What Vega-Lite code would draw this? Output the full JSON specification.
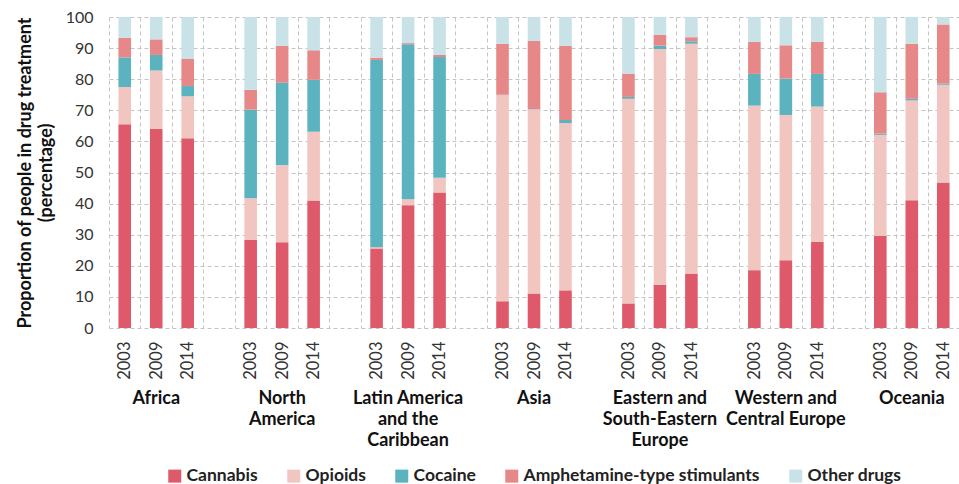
{
  "$schema": "https://vega.github.io/schema/vega-lite/v6.json",
  "width": 850,
  "height": 311,
  "autosize": "none",
  "padding": {"left": 109, "top": 17, "right": 0, "bottom": 156},
  "background": "white",
  "config": {
    "font": "Lato",
    "view": {"stroke": null},
    "axis": {"labelFont": "Lato", "titleFont": "Lato"}
  },
  "data": {
    "values": [
      {"region": "Africa", "year": "2003", "Cannabis": 65.5, "Opioids": 12, "Cocaine": 9.5, "Amphetamine-type stimulants": 6.3, "Other drugs": 6.7},
      {"region": "Africa", "year": "2009", "Cannabis": 64, "Opioids": 18.8, "Cocaine": 5, "Amphetamine-type stimulants": 5, "Other drugs": 7.2},
      {"region": "Africa", "year": "2014", "Cannabis": 61, "Opioids": 13.5, "Cocaine": 3.3, "Amphetamine-type stimulants": 8.7, "Other drugs": 13.5},
      {"region": "North America", "year": "2003", "Cannabis": 28.3, "Opioids": 13.4, "Cocaine": 28.5, "Amphetamine-type stimulants": 6.4, "Other drugs": 23.4},
      {"region": "North America", "year": "2009", "Cannabis": 27.6, "Opioids": 24.8, "Cocaine": 26.5, "Amphetamine-type stimulants": 11.8, "Other drugs": 9.3},
      {"region": "North America", "year": "2014", "Cannabis": 41, "Opioids": 22.1, "Cocaine": 16.7, "Amphetamine-type stimulants": 9.5, "Other drugs": 10.7},
      {"region": "Latin America and the Caribbean", "year": "2003", "Cannabis": 25.6, "Opioids": 0.4, "Cocaine": 60.2, "Amphetamine-type stimulants": 0.7, "Other drugs": 13.1},
      {"region": "Latin America and the Caribbean", "year": "2009", "Cannabis": 39.5, "Opioids": 1.9, "Cocaine": 49.8, "Amphetamine-type stimulants": 0.4, "Other drugs": 8.4},
      {"region": "Latin America and the Caribbean", "year": "2014", "Cannabis": 43.6, "Opioids": 4.7, "Cocaine": 38.8, "Amphetamine-type stimulants": 0.7, "Other drugs": 12.2},
      {"region": "Asia", "year": "2003", "Cannabis": 8.6, "Opioids": 66.3, "Cocaine": 0.1, "Amphetamine-type stimulants": 16.4, "Other drugs": 8.6},
      {"region": "Asia", "year": "2009", "Cannabis": 11.1, "Opioids": 59.2, "Cocaine": 0.1, "Amphetamine-type stimulants": 21.9, "Other drugs": 7.7},
      {"region": "Asia", "year": "2014", "Cannabis": 12.1, "Opioids": 53.8, "Cocaine": 1.0, "Amphetamine-type stimulants": 23.8, "Other drugs": 9.3},
      {"region": "Eastern and South-Eastern Europe", "year": "2003", "Cannabis": 7.9, "Opioids": 65.8, "Cocaine": 0.6, "Amphetamine-type stimulants": 7.5, "Other drugs": 18.2},
      {"region": "Eastern and South-Eastern Europe", "year": "2009", "Cannabis": 13.9, "Opioids": 75.8, "Cocaine": 1.1, "Amphetamine-type stimulants": 3.5, "Other drugs": 5.7},
      {"region": "Eastern and South-Eastern Europe", "year": "2014", "Cannabis": 17.5, "Opioids": 73.9, "Cocaine": 0.8, "Amphetamine-type stimulants": 1.3, "Other drugs": 6.5},
      {"region": "Western and Central Europe", "year": "2003", "Cannabis": 18.6, "Opioids": 52.9, "Cocaine": 10.2, "Amphetamine-type stimulants": 10.3, "Other drugs": 8.0},
      {"region": "Western and Central Europe", "year": "2009", "Cannabis": 21.8, "Opioids": 46.7, "Cocaine": 11.7, "Amphetamine-type stimulants": 10.7, "Other drugs": 9.1},
      {"region": "Western and Central Europe", "year": "2014", "Cannabis": 27.7, "Opioids": 43.5, "Cocaine": 10.5, "Amphetamine-type stimulants": 10.3, "Other drugs": 8.0},
      {"region": "Oceania", "year": "2003", "Cannabis": 29.6, "Opioids": 32.5, "Cocaine": 0.4, "Amphetamine-type stimulants": 13.3, "Other drugs": 24.2},
      {"region": "Oceania", "year": "2009", "Cannabis": 41.1, "Opioids": 32.1, "Cocaine": 0.5, "Amphetamine-type stimulants": 17.7, "Other drugs": 8.6},
      {"region": "Oceania", "year": "2014", "Cannabis": 46.8, "Opioids": 31.4, "Cocaine": 0.4, "Amphetamine-type stimulants": 19.0, "Other drugs": 2.4}
    ]
  },
  "transform": [
    {"fold": ["Cannabis", "Opioids", "Cocaine", "Amphetamine-type stimulants", "Other drugs"], "as": ["drug", "value"]},
    {"calculate": "datum.region + '|' + datum.year", "as": "slot"},
    {"calculate": "indexof(['Cannabis','Opioids','Cocaine','Amphetamine-type stimulants','Other drugs'], datum.drug)", "as": "k"}
  ],
  "resolve": {"axis": {"x": "independent"}, "scale": {"x": "shared"}},
  "layer": [
    {
      "mark": {"type": "bar", "width": {"band": 0.4}},
      "encoding": {
        "x": {
          "field": "slot",
          "type": "nominal",
          "scale": {
            "paddingInner": 0,
            "paddingOuter": 0,
            "domain": [
              "Africa|2003", "Africa|2009", "Africa|2014", "gap1",
              "North America|2003", "North America|2009", "North America|2014", "gap2",
              "Latin America and the Caribbean|2003", "Latin America and the Caribbean|2009", "Latin America and the Caribbean|2014", "gap3",
              "Asia|2003", "Asia|2009", "Asia|2014", "gap4",
              "Eastern and South-Eastern Europe|2003", "Eastern and South-Eastern Europe|2009", "Eastern and South-Eastern Europe|2014", "gap5",
              "Western and Central Europe|2003", "Western and Central Europe|2009", "Western and Central Europe|2014", "gap6",
              "Oceania|2003", "Oceania|2009", "Oceania|2014"
            ]
          },
          "axis": {
            "orient": "bottom",
            "title": null,
            "domain": false,
            "ticks": false,
            "grid": true,
            "tickBand": "extent",
            "gridColor": "#c4c4c4",
            "gridDash": [4, 3],
            "gridWidth": 1,
            "labelAngle": -90,
            "labelFontSize": 16.5,
            "labelColor": "#333333",
            "labelPadding": 13,
            "labelOverlap": false,
            "labelExpr": "indexof('' + datum.value, '|') > 0 ? split('' + datum.value, '|')[1] : ''"
          }
        },
        "y": {
          "field": "value",
          "type": "quantitative",
          "stack": "zero",
          "scale": {"domain": [0, 100], "nice": false},
          "axis": {
            "values": [0, 10, 20, 30, 40, 50, 60, 70, 80, 90, 100],
            "title": ["Proportion of people in drug treatment", "(percentage)"],
            "titleFontSize": 18,
            "titleFontWeight": "bold",
            "titleColor": "#111111",
            "titlePadding": 10,
            "titleLineHeight": 21,
            "domain": false,
            "ticks": false,
            "grid": true,
            "gridColor": "#c4c4c4",
            "gridDash": [4, 3],
            "labelFontSize": 16,
            "labelColor": "#333333",
            "labelPadding": 16
          }
        },
        "color": {
          "field": "drug",
          "type": "nominal",
          "scale": {
            "domain": ["Cannabis", "Opioids", "Cocaine", "Amphetamine-type stimulants", "Other drugs"],
            "range": ["#de5a6a", "#f2c6c0", "#5bb3bf", "#e68888", "#c8e2e7"]
          },
          "legend": {
            "title": null,
            "orient": "none",
            "direction": "horizontal",
            "legendX": 57,
            "legendY": 450,
            "symbolType": "square",
            "symbolSize": 169,
            "symbolStrokeWidth": 0,
            "labelFontSize": 17.5,
            "labelFontWeight": "bold",
            "labelColor": "#222222",
            "labelOffset": 3,
            "columnPadding": 27,
            "labelLimit": 400
          }
        },
        "order": {"field": "k", "type": "quantitative", "sort": "ascending"}
      }
    },
    {
      "mark": {"type": "point", "opacity": 0},
      "encoding": {
        "x": {
          "field": "slot",
          "type": "nominal",
          "axis": {
            "orient": "bottom",
            "title": null,
            "domain": false,
            "ticks": false,
            "grid": false,
            "labelAngle": 0,
            "labelAlign": "center",
            "labelBaseline": "top",
            "labelFontSize": 18,
            "labelFontWeight": "bold",
            "labelColor": "#111111",
            "labelPadding": 61,
            "labelOverlap": false,
            "labelExpr": "indexof('' + datum.value, '|2009') < 0 ? '' : (indexof('' + datum.value, 'North America') == 0 ? 'North' : (indexof('' + datum.value, 'Latin America') == 0 ? 'Latin America' : (indexof('' + datum.value, 'Eastern and') == 0 ? 'Eastern and' : (indexof('' + datum.value, 'Western and') == 0 ? 'Western and' : split('' + datum.value, '|')[0]))))"
          }
        }
      }
    },
    {
      "mark": {"type": "point", "opacity": 0},
      "encoding": {
        "x": {
          "field": "slot",
          "type": "nominal",
          "axis": {
            "orient": "bottom",
            "title": null,
            "domain": false,
            "ticks": false,
            "grid": false,
            "labelAngle": 0,
            "labelAlign": "center",
            "labelBaseline": "top",
            "labelFontSize": 18,
            "labelFontWeight": "bold",
            "labelColor": "#111111",
            "labelPadding": 82,
            "labelOverlap": false,
            "labelExpr": "indexof('' + datum.value, '|2009') < 0 ? '' : (indexof('' + datum.value, 'North America') == 0 ? 'America' : (indexof('' + datum.value, 'Latin America') == 0 ? 'and the' : (indexof('' + datum.value, 'Eastern and') == 0 ? 'South-Eastern' : (indexof('' + datum.value, 'Western and') == 0 ? 'Central Europe' : ''))))"
          }
        }
      }
    },
    {
      "mark": {"type": "point", "opacity": 0},
      "encoding": {
        "x": {
          "field": "slot",
          "type": "nominal",
          "axis": {
            "orient": "bottom",
            "title": null,
            "domain": false,
            "ticks": false,
            "grid": false,
            "labelAngle": 0,
            "labelAlign": "center",
            "labelBaseline": "top",
            "labelFontSize": 18,
            "labelFontWeight": "bold",
            "labelColor": "#111111",
            "labelPadding": 103,
            "labelOverlap": false,
            "labelExpr": "indexof('' + datum.value, '|2009') < 0 ? '' : (indexof('' + datum.value, 'Latin America') == 0 ? 'Caribbean' : (indexof('' + datum.value, 'Eastern and') == 0 ? 'Europe' : ''))"
          }
        }
      }
    }
  ]
}
